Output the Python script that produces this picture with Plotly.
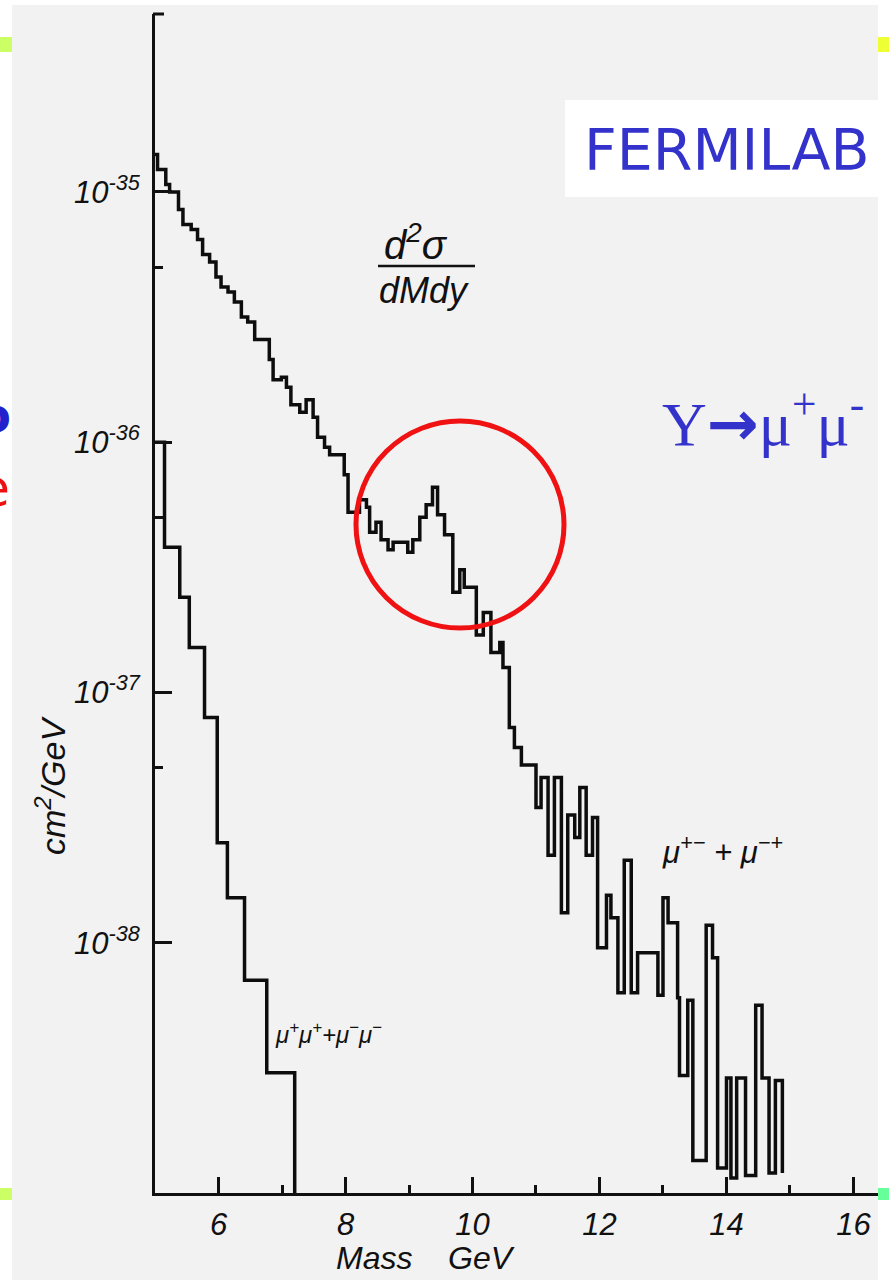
import numpy as np
import plotly.graph_objects as go

# Opposite-sign dimuon spectrum (mu+- + mu-+): bin edges [GeV] and log10 of d2sigma/dMdy [cm^2/GeV]
opp_edges = [5.00, 5.04, 5.17, 5.23, 5.37, 5.44, 5.57, 5.67, 5.75, 5.86, 5.96, 6.04, 6.15,
             6.25, 6.36, 6.46, 6.57, 6.80, 6.86, 6.99, 7.07, 7.14, 7.28, 7.38, 7.49, 7.56,
             7.67, 7.75, 7.98, 8.04, 8.22, 8.33, 8.38, 8.48, 8.56, 8.67, 8.75, 8.98, 9.06,
             9.17, 9.27, 9.37, 9.45, 9.56, 9.69, 9.80, 9.87, 10.06, 10.17, 10.29, 10.43,
             10.48, 10.58, 10.66, 10.77, 11.00, 11.08, 11.19, 11.29, 11.40, 11.50, 11.61,
             11.69, 11.79, 11.89, 11.97, 12.11, 12.18, 12.29, 12.39, 12.50, 12.60, 12.92,
             13.00, 13.08, 13.23, 13.26, 13.39, 13.47, 13.68, 13.78, 13.86, 14.00, 14.07,
             14.16, 14.30, 14.46, 14.56, 14.67, 14.77, 14.88]
opp_log_xsec = [-34.85, -34.91, -34.97, -35.00, -35.07, -35.13, -35.15, -35.19, -35.25, -35.28,
                -35.34, -35.38, -35.40, -35.44, -35.50, -35.52, -35.59, -35.67, -35.75, -35.74,
                -35.78, -35.85, -35.88, -35.83, -35.90, -35.98, -36.02, -36.05, -36.13, -36.28,
                -36.23, -36.26, -36.36, -36.32, -36.39, -36.43, -36.40, -36.44, -36.39, -36.30,
                -36.25, -36.18, -36.29, -36.37, -36.60, -36.51, -36.58, -36.77, -36.68, -36.84,
                -36.80, -36.90, -37.14, -37.22, -37.29, -37.46, -37.34, -37.65, -37.34, -37.88,
                -37.49, -37.58, -37.38, -37.65, -37.50, -38.02, -37.81, -37.90, -38.20, -37.67,
                -38.20, -38.04, -38.21, -37.82, -37.92, -38.22, -38.53, -38.23, -38.87, -37.93,
                -38.06, -38.90, -38.54, -38.94, -38.54, -38.93, -38.25, -38.54, -38.92, -38.55]
opp_end_log = -38.92

# Same-sign dimuon spectrum (mu+mu+ + mu-mu-)
same_edges = [5.00, 5.15, 5.39, 5.54, 5.78, 5.98, 6.14, 6.41, 6.76, 7.20]
same_log_xsec = [-36.00, -36.42, -36.62, -36.82, -37.10, -37.60, -37.82, -38.15, -38.52]
same_end_log = -39.0

# Axis ticks
x_major = [6, 8, 10, 12, 14, 16]
x_minor = [7, 9, 11, 13, 15]
y_major_exp = [-35, -36, -37, -38]
y_minor_vals = [5e-36, 5e-37, 5e-38]

X_RANGE = [5.0, 16.386]
Y_RANGE = [-39.0, -34.289]

# page geometry of the plotting area (pixels)
W, H = 889, 1280
L, R, T, B = 155, 878, 14, 1193


def px(x):
    return (x - L) / (R - L)


def py(y):
    return (B - y) / (B - T)


def step_trace(edges, log_vals, end_log):
    xs = list(edges[:-1]) + [edges[-1], edges[-1]]
    ys = list(log_vals) + [log_vals[-1], end_log]
    return go.Scatter(x=xs, y=10 ** np.array(ys), mode="lines", line_shape="hv",
                      line=dict(color="#0d0d0d", width=3.5), cliponaxis=False,
                      hoverinfo="skip", showlegend=False)


fig = go.Figure()
fig.add_trace(step_trace(opp_edges, opp_log_xsec, opp_end_log))
fig.add_trace(step_trace(same_edges, same_log_xsec, same_end_log))

hand = "Liberation Sans"
ink = "#111111"
blue = "#3333CC"

fig.update_xaxes(range=X_RANGE, showgrid=False, zeroline=False,
                 showline=True, linecolor=ink, linewidth=3,
                 tickvals=x_major, ticktext=[f"<i>{v}</i>" for v in x_major],
                 ticks="inside", ticklen=16, tickwidth=3, tickcolor=ink,
                 tickfont=dict(family=hand, size=31, color=ink), ticklabelstandoff=2,
                 minor=dict(tickvals=x_minor, ticks="inside", ticklen=8, tickwidth=3,
                            tickcolor=ink))
fig.update_yaxes(type="log", range=Y_RANGE, showgrid=False, zeroline=False,
                 showline=True, linecolor=ink, linewidth=3,
                 tickvals=[10.0 ** e for e in y_major_exp],
                 ticktext=[f"<i>10<sup>{e}</sup></i>" for e in y_major_exp],
                 ticks="inside", ticklen=17, tickwidth=3, tickcolor=ink,
                 tickfont=dict(family=hand, size=31, color=ink), ticklabelstandoff=6,
                 minor=dict(tickvals=y_minor_vals, ticks="inside", ticklen=8, tickwidth=3,
                            tickcolor=ink))

shapes = [
    # aged paper sheet behind the plot
    dict(type="rect", xref="paper", yref="paper", layer="below",
         x0=px(12), x1=px(878), y0=py(1280), y1=py(5),
         fillcolor="#F2F2F2", line=dict(width=0)),
    # white box behind the lab name
    dict(type="rect", xref="paper", yref="paper", layer="below",
         x0=px(565), x1=px(889), y0=py(197), y1=py(100),
         fillcolor="white", line=dict(width=0)),
    # cap on top of the vertical axis
    dict(type="line", xref="paper", yref="paper", x0=px(153), x1=px(164),
         y0=py(14), y1=py(14), line=dict(color=ink, width=3)),
    # fraction bar of d2sigma/dMdy
    dict(type="line", xref="paper", yref="paper", x0=px(378), x1=px(475),
         y0=py(266), y1=py(266), line=dict(color=ink, width=2.5)),
    # ring around the Upsilon bump
    dict(type="circle", xref="paper", yref="paper",
         x0=px(356), x1=px(564), y0=py(628), y1=py(421),
         line=dict(color="#F01212", width=5)),
    # slide corner markers
    dict(type="rect", xref="paper", yref="paper", x0=px(0), x1=px(12), y0=py(52), y1=py(37),
         fillcolor="#CCFF66", line=dict(width=0)),
    dict(type="rect", xref="paper", yref="paper", x0=px(878), x1=px(889), y0=py(52), y1=py(37),
         fillcolor="#EEFF33", line=dict(width=0)),
    dict(type="rect", xref="paper", yref="paper", x0=px(0), x1=px(12), y0=py(1200), y1=py(1188),
         fillcolor="#CCFF66", line=dict(width=0)),
    dict(type="rect", xref="paper", yref="paper", x0=px(878), x1=px(889), y0=py(1200), y1=py(1188),
         fillcolor="#66FF99", line=dict(width=0)),
]


def note(text, x, y, size, color=ink, family=hand, angle=0, xanchor="center"):
    return dict(text=text, xref="paper", yref="paper", x=px(x), y=py(y),
                xanchor=xanchor, yanchor="middle", showarrow=False, textangle=angle,
                font=dict(family=family, size=size, color=color))


annotations = [
    note("<i>d<sup>2</sup>σ</i>", 416, 242, 40),
    note("<i>dMdy</i>", 424, 290, 36),
    note("<i>μ<sup>+−</sup> + μ<sup>−+</sup></i>", 722, 850, 31),
    note("<i>μ<sup>+</sup>μ<sup>+</sup>+μ<sup>−</sup>μ<sup>−</sup></i>", 328, 1033, 24),
    note("<i>Mass    GeV</i>", 425, 1258, 32),
    note("<i>cm<sup>2</sup>/GeV</i>", 50, 785, 34, angle=-90),
    note("FERMILAB", 727, 150, 57, color=blue, family="DejaVu Sans"),
    note("Υ<span style='font-family:DejaVu Sans'><b>→</b></span>μ<sup>+</sup>μ<sup>-</sup>",
         763, 420, 62, color=blue, family="Liberation Serif"),
    note("<b>o</b>", -6, 415, 48, color="#2222CC", family="DejaVu Sans"),
    note("e", -6, 488, 52, color="#EE1111", family="DejaVu Sans"),
]

fig.update_layout(width=W, height=H, autosize=False,
                  margin=dict(l=L, r=W - R, t=T, b=H - B),
                  paper_bgcolor="white", plot_bgcolor="rgba(0,0,0,0)",
                  shapes=shapes, annotations=annotations, showlegend=False)

fig.write_html("out.html")
